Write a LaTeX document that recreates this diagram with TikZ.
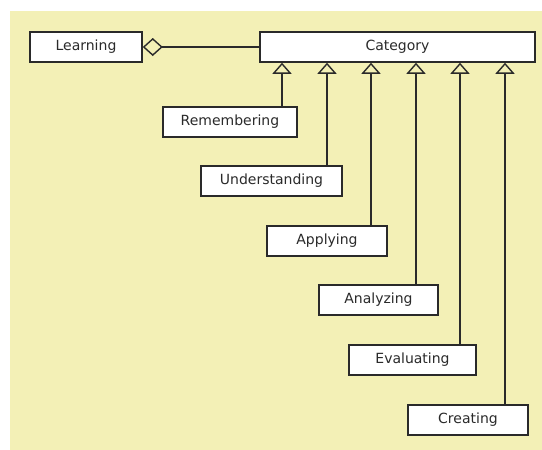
\documentclass[tikz,border=0pt]{standalone}
\usepackage{fontspec}
\setmainfont{DejaVu Sans}
\usetikzlibrary{arrows.meta}
\definecolor{bgyellow}{HTML}{F3F0B6}
\definecolor{ink}{HTML}{2A2A2A}
\tikzset{
  cls/.style={draw=ink, line width=1.5pt, fill=white, minimum height=30pt, inner sep=0pt,
    text=ink, font=\fontsize{14}{16}\selectfont},
  gen/.style={draw=ink, line width=1.5pt, -{Triangle[open, length=11pt, width=19pt, line width=1.4pt]}},
  agg/.style={draw=ink, line width=1.5pt, -{Diamond[open, length=20pt, width=18pt, line width=1.4pt]}},
}
\begin{document}
\begin{tikzpicture}[x=1pt,y=-1pt]
\useasboundingbox (0,0) rectangle (542,450);
\fill[bgyellow] (10,11) rectangle (542,450);
\node[cls, minimum width=112pt] (learn) at (86,47) {Learning};
\node[cls, minimum width=275pt] (cat) at (397.5,47) {Category};
\node[cls, minimum width=134pt] (rem) at (230,122) {Remembering};
\node[cls, minimum width=141pt] (und) at (271.5,181) {Understanding};
\node[cls, minimum width=120pt] (app) at (327,241) {Applying};
\node[cls, minimum width=119pt] (ana) at (378.5,300) {Analyzing};
\node[cls, minimum width=127pt] (eva) at (412.5,360) {Evaluating};
\node[cls, minimum width=120pt] (cre) at (468,420) {Creating};
\draw[agg] (cat.west) -- (learn.east);
\draw[gen] ([xshift=52pt]rem.north) -- ([xshift=52pt]rem.north |- cat.south);
\draw[gen] ([xshift=55.5pt]und.north) -- ([xshift=55.5pt]und.north |- cat.south);
\draw[gen] ([xshift=44pt]app.north) -- ([xshift=44pt]app.north |- cat.south);
\draw[gen] ([xshift=37.5pt]ana.north) -- ([xshift=37.5pt]ana.north |- cat.south);
\draw[gen] ([xshift=47.5pt]eva.north) -- ([xshift=47.5pt]eva.north |- cat.south);
\draw[gen] ([xshift=37pt]cre.north) -- ([xshift=37pt]cre.north |- cat.south);
\end{tikzpicture}
\end{document}
